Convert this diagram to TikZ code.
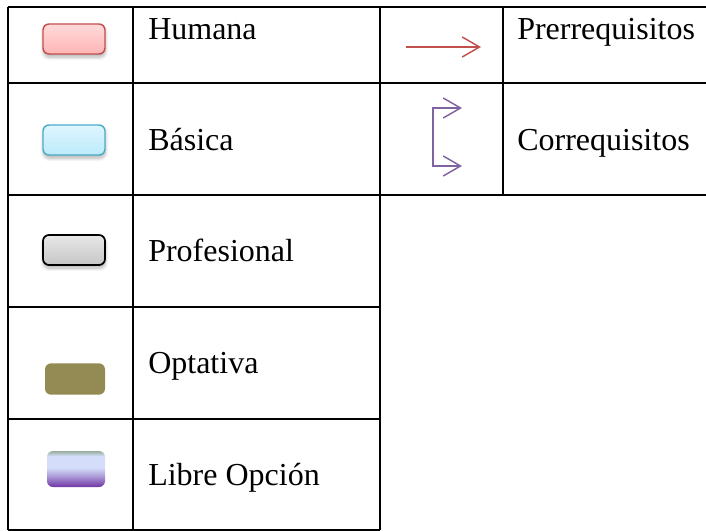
\documentclass[tikz,border=0pt]{standalone}
\usepackage{fontspec}
\setmainfont{Liberation Serif}
\usetikzlibrary{shadows.blur,arrows.meta}

\definecolor{humanaborde}{RGB}{192,80,77}
\definecolor{humanaarriba}{RGB}{255,218,218}
\definecolor{humanaabajo}{RGB}{255,180,180}
\definecolor{basicaborde}{RGB}{75,172,198}
\definecolor{basicaarriba}{RGB}{222,246,255}
\definecolor{basicaabajo}{RGB}{188,234,250}
\definecolor{profarriba}{RGB}{232,232,232}
\definecolor{profabajo}{RGB}{198,198,198}
\definecolor{optativa}{RGB}{148,138,84}
\definecolor{librearriba}{RGB}{150,172,156}
\definecolor{librelila}{RGB}{212,222,250}
\definecolor{libreabajo}{RGB}{112,52,164}
\definecolor{prerreq}{RGB}{192,80,77}
\definecolor{correq}{RGB}{128,100,162}

% shading for the free choice swatch
\pgfdeclareverticalshading{libre}{100bp}{color(0bp)=(libreabajo); color(25bp)=(libreabajo);
  color(40bp)=(librelila!60!libreabajo); color(52bp)=(librelila); color(68bp)=(librelila);
  color(75bp)=(librearriba); color(100bp)=(librearriba)}

\tikzset{
  muestra/.style={minimum width=46.5pt, minimum height=22.5pt, inner sep=0pt,
    rounded corners=4.5pt},
  sombra/.style={blur shadow={shadow xshift=0.3pt, shadow yshift=-2.4pt,
    shadow blur radius=2.5pt, shadow blur steps=8, shadow opacity=30}},
  etiqueta/.style={anchor=base west, inner sep=0pt, font=\fontsize{24}{28}\selectfont},
  linea/.style={line width=1.7pt},
  flecha/.style={line width=1.1pt, -{Straight Barb[length=13pt, width=15pt, line width=1.1pt]}}
}

\begin{document}
\begin{tikzpicture}[x=0.75pt, y=-0.75pt]
    \useasboundingbox (0,0) rectangle (706,531);

    % --- Table lines ---
    \foreach \y in {7,83,195,307,419,530} {
        \draw[linea] (8,\y) -- (380,\y);
    }
    \foreach \y in {7,83,195} {
        \draw[linea] (380,\y) -- (706,\y);
    }
    \foreach \x in {8,133,380} {
        \draw[linea] (\x,7) -- (\x,530);
    }
    \draw[linea] (503,7) -- (503,195);

    % --- Swatches ---
    \node[muestra, sombra, draw=humanaborde, line width=1.1pt,
        top color=humanaarriba, bottom color=humanaabajo] (humana) at (74,39) {};
    \node[muestra, sombra, draw=basicaborde, line width=1.1pt,
        top color=basicaarriba, bottom color=basicaabajo] (basica) at (74,140) {};
    \node[muestra, sombra, draw=black, line width=1.3pt,
        top color=profarriba, bottom color=profabajo] (profesional) at (74,250) {};
    \node[muestra, minimum width=45pt, minimum height=23.5pt, fill=optativa] (optativa) at (75,379) {};
    \node[muestra, minimum width=43.5pt, minimum height=27pt, shading=libre] (libre) at (76,469) {};

    % --- Labels ---
    \node[etiqueta] (thumana) at (148,40) {Humana};
    \node[etiqueta] (tbasica) at (148,151) {Básica};
    \node[etiqueta] (tprof) at (148,261) {Profesional};
    \node[etiqueta] (toptativa) at (148,373) {Optativa};
    \node[etiqueta] (tlibre) at (148,485) {Libre Opción};
    \node[etiqueta] (tprerreq) at (517,40) {Prerrequisitos};
    \node[etiqueta] (tcorreq) at (517,151) {Correquisitos};

    % --- Arrows ---
    \coordinate (p1) at (406,47);
    \coordinate (p2) at (481,47);
    \draw[flecha, prerreq] (p1) -- (p2);

    \coordinate (c0) at (433,137);
    \coordinate (c1) at (462,108);
    \coordinate (c2) at (462,166);
    \draw[flecha, correq] (c0) |- (c1);
    \draw[flecha, correq] (c0) |- (c2);
\end{tikzpicture}
\end{document}
